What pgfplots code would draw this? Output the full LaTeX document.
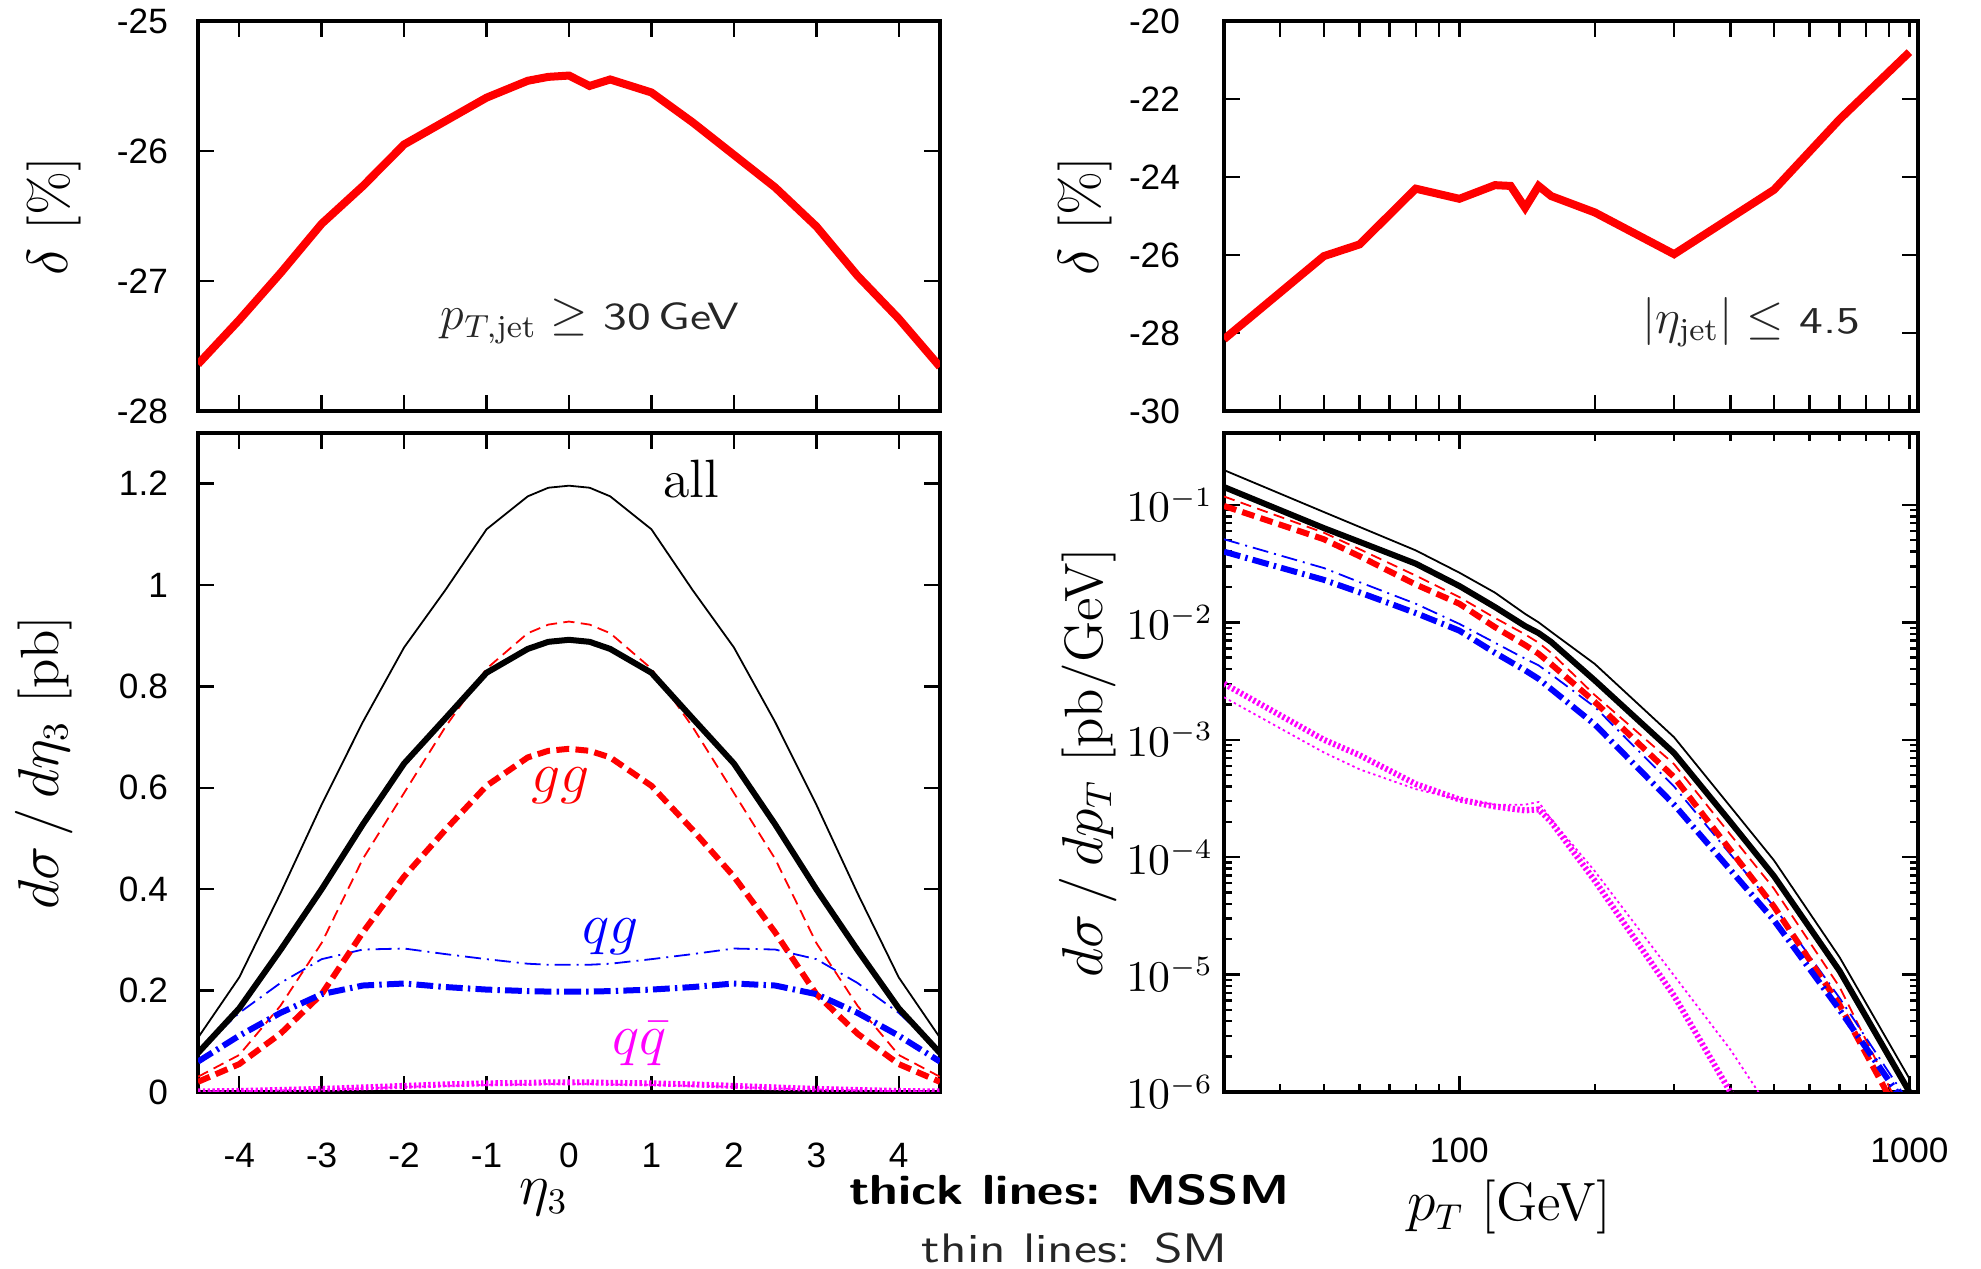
\documentclass[border=0pt]{standalone}
\usepackage{fontspec}
\usepackage{graphicx}
\usepackage{pgfplots}
\usepackage{pgfplotstable}
\pgfplotsset{compat=1.18}
\newfontfamily\arial{Liberation Sans}
\definecolor{cred}{rgb}{1,0,0}
\definecolor{cblue}{rgb}{0,0,1}
\definecolor{cmag}{rgb}{1,0,1}

% delta vs eta (top left)
\pgfplotstableread{
eta delta
-4.5 -27.64
-4 -27.30
-3.5 -26.94
-3 -26.56
-2.5 -26.27
-2 -25.95
-1.5 -25.77
-1 -25.59
-0.5 -25.46
-0.25 -25.43
0 -25.42
0.25 -25.50
0.5 -25.45
1 -25.55
1.5 -25.78
2 -26.03
2.5 -26.28
3 -26.58
3.5 -26.96
4 -27.29
4.5 -27.66
}\deltaeta

% delta vs pT (top right)
\pgfplotstableread{
pt delta
30 -28.16
50 -26.03
60 -25.73
80 -24.30
100 -24.56
120 -24.21
130 -24.23
140 -24.79
150 -24.23
160 -24.49
200 -24.91
300 -25.98
500 -24.33
700 -22.52
1000 -20.80
}\deltapt

% dsigma/deta3 (bottom left)
\pgfplotstableread{
eta small mssmall smgg mssmgg smqg mssmqg smqq mssmqq
-4.5 0.107 0.077 0.030 0.020 0.080 0.060 0.001 0.001
-4 0.226 0.165 0.073 0.055 0.156 0.111 0.0015 0.002
-3.5 0.392 0.280 0.170 0.115 0.215 0.156 0.003 0.004
-3 0.567 0.400 0.294 0.193 0.262 0.193 0.005 0.006
-2.5 0.730 0.528 0.460 0.315 0.281 0.210 0.007 0.009
-2 0.877 0.648 0.590 0.425 0.283 0.214 0.010 0.012
-1.5 0.990 0.737 0.720 0.517 0.272 0.207 0.012 0.015
-1 1.110 0.827 0.835 0.604 0.262 0.202 0.014 0.017
-0.5 1.175 0.874 0.905 0.660 0.253 0.199 0.015 0.018
-0.25 1.192 0.888 0.922 0.673 0.251 0.198 0.016 0.019
0 1.196 0.892 0.928 0.677 0.251 0.198 0.016 0.019
0.25 1.192 0.888 0.922 0.673 0.251 0.198 0.016 0.019
0.5 1.175 0.874 0.905 0.660 0.253 0.199 0.015 0.018
1 1.110 0.827 0.835 0.604 0.262 0.202 0.014 0.017
1.5 0.990 0.737 0.720 0.517 0.272 0.207 0.012 0.015
2 0.877 0.648 0.590 0.425 0.283 0.214 0.010 0.012
2.5 0.730 0.528 0.460 0.315 0.281 0.210 0.007 0.009
3 0.567 0.400 0.294 0.193 0.262 0.193 0.005 0.006
3.5 0.392 0.280 0.170 0.115 0.215 0.156 0.003 0.004
4 0.226 0.165 0.073 0.055 0.156 0.111 0.0015 0.002
4.5 0.107 0.077 0.030 0.020 0.080 0.060 0.001 0.001
}\deta

% dsigma/dpT (bottom right)
\pgfplotstableread{
pt small mssmall smgg mssmgg smqg mssmqg smqq mssmqq
30 0.198 0.142 0.118 0.098 0.051 0.040 2.3e-3 3.0e-3
50 0.087 0.0635 0.058 0.051 0.029 0.023 7.8e-4 1.0e-3
60 0.065 0.0485 0.042 0.0366 0.022 0.018 5.6e-4 7.4e-4
80 0.041 0.0316 0.025 0.021 0.0144 0.012 3.8e-4 4.2e-4
100 0.0265 0.0204 0.0164 0.0144 0.0097 0.0085 3.1e-4 3.1e-4
120 0.0179 0.0135 0.0109 0.0091 0.0067 0.0055 2.8e-4 2.7e-4
140 0.0118 0.0093 0.0079 0.0064 0.0049 0.0039 2.8e-4 2.5e-4
150 0.0100 0.0081 0.0067 0.0054 0.0043 0.0033 2.95e-4 2.55e-4
160 0.0083 0.0068 0.0055 0.0044 0.0036 0.0027 2.1e-4 2.0e-4
200 0.00442 0.0032 0.0024 0.0021 0.0019 0.00135 7.6e-5 6.3e-5
300 0.00105 7.7e-4 6.2e-4 4.8e-4 4.0e-4 2.8e-4 9.8e-6 6.6e-6
400 2.7e-4 2.0e-4 1.56e-4 1.15e-4 1.06e-4 7.8e-5 2.3e-6 1.0e-6
500 9.4e-5 6.9e-5 5.4e-5 3.8e-5 3.8e-5 2.9e-5 6.3e-7 2.5e-7
700 1.4e-5 1.07e-5 7.8e-6 5.5e-6 6.3e-6 5.0e-6 5e-8 1e-8
1000 1.3e-6 1.0e-6 5e-7 4.4e-7 8e-7 7e-7 1e-9 1e-10
}\dpt

\pgfplotsset{
  base/.style={scale only axis, clip=true,
    axis line style={line width=0.8pt},
    tick style={line width=0.6pt, black},
    major tick length=4pt, minor tick length=2pt,
    tick label style={font=\arial\fontsize{8.8}{10}\selectfont},
    xticklabel style={yshift=-4.5pt},
    yticklabel style={xshift=-4pt}},
  mssm/.style={line width=1.5pt},
  sm/.style={line width=0.45pt},
  allA/.style={black, solid},
  ggA/.style={cred, dash pattern=on 3.2pt off 1.6pt},
  ggB/.style={cred, dash pattern=on 2.8pt off 1.6pt},
  qgA/.style={cblue, dash pattern=on 4.2pt off 1.3pt on 0.6pt off 1.3pt},
  qgB/.style={cblue, dash pattern=on 4pt off 1.5pt on 0.5pt off 1.5pt},
  qqA/.style={cmag, dash pattern=on 0.6pt off 0.6pt},
  qqB/.style={cmag, dash pattern=on 0.6pt off 0.8pt},
}

\newcommand{\lab}{\fontsize{13.5}{15}\selectfont}

\begin{document}
\begin{tikzpicture}
\useasboundingbox (0,0) rectangle (495.25pt,317.25pt);

% top left
\begin{axis}[base, at={(49.5pt,214.5pt)}, anchor=south west,
  width=185.5pt, height=97.5pt,
  xmin=-4.5, xmax=4.5, ymin=-28, ymax=-25,
  xtick={-4,-3,-2,-1,0,1,2,3,4}, xticklabels={},
  ytick={-28,-27,-26,-25}, yticklabels={-28,-27,-26,-25}]
\addplot[cred, line width=2pt] table[x=eta, y=delta] {\deltaeta};
\end{axis}

% top right
\begin{axis}[base, at={(306pt,214.5pt)}, anchor=south west,
  width=173.5pt, height=97.5pt, xmode=log,
  xmin=30, xmax=1045, ymin=-30, ymax=-20,
  xtick={100,1000}, xticklabels={},
  minor xtick={40,50,60,70,80,90,200,300,400,500,600,700,800,900},
  minor tick length=4pt,
  ytick={-30,-28,-26,-24,-22,-20}, yticklabels={-30,-28,-26,-24,-22,-20},
  yticklabel style={xshift=-3.5pt}]
\addplot[cred, line width=2pt] table[x=pt, y=delta] {\deltapt};
\end{axis}

% bottom left
\begin{axis}[base, at={(49.5pt,44.25pt)}, anchor=south west,
  width=185.5pt, height=164.75pt,
  xmin=-4.5, xmax=4.5, ymin=0, ymax=1.3,
  xtick={-4,-3,-2,-1,0,1,2,3,4}, xticklabels={-4,-3,-2,-1,0,1,2,3,4},
  ytick={0,0.2,0.4,0.6,0.8,1,1.2}, yticklabels={0,0.2,0.4,0.6,0.8,1,1.2},
  xticklabel style={yshift=-4.8pt}]
\addplot[sm, allA] table[x=eta, y=small] {\deta};
\addplot[sm, ggB] table[x=eta, y=smgg] {\deta};
\addplot[sm, qgB] table[x=eta, y=smqg] {\deta};
\addplot[sm, qqB] table[x=eta, y=smqq] {\deta};
\addplot[mssm, allA] table[x=eta, y=mssmall] {\deta};
\addplot[mssm, ggA] table[x=eta, y=mssmgg] {\deta};
\addplot[mssm, qgA] table[x=eta, y=mssmqg] {\deta};
\addplot[mssm, qqA] table[x=eta, y=mssmqq] {\deta};
\node at (axis cs:1.48,1.21) {\lab all};
\node[text=cred] at (axis cs:-0.1,0.605) {\lab $gg$};
\node[text=cblue] at (axis cs:0.5,0.306) {\lab $qg$};
\node[text=cmag] at (axis cs:0.86,0.095) {\lab $q\bar q$};
\end{axis}

% bottom right
\begin{axis}[base, at={(306pt,44.25pt)}, anchor=south west,
  width=173.5pt, height=164.75pt, xmode=log, ymode=log,
  xmin=30, xmax=1045, ymin=1e-6, ymax=0.41,
  xtick={100,1000}, xticklabels={100,1000},
  minor xtick={40,50,60,70,80,90,200,300,400,500,600,700,800,900},
  ytick={1e-6,1e-5,1e-4,1e-3,1e-2,1e-1},
  yticklabel style={font=\fontsize{10.6}{12}\selectfont, xshift=4.8pt},
  xticklabel style={yshift=-3.4pt}]
\addplot[sm, allA] table[x=pt, y=small] {\dpt};
\addplot[sm, ggB] table[x=pt, y=smgg] {\dpt};
\addplot[sm, qgB] table[x=pt, y=smqg] {\dpt};
\addplot[sm, qqB] table[x=pt, y=smqq] {\dpt};
\addplot[mssm, allA] table[x=pt, y=mssmall] {\dpt};
\addplot[mssm, ggA] table[x=pt, y=mssmgg] {\dpt};
\addplot[mssm, qgA] table[x=pt, y=mssmqg] {\dpt};
\addplot[mssm, qqA] table[x=pt, y=mssmqq] {\dpt};
\end{axis}

% axis labels
\node[rotate=90] at (13.4pt,263.25pt) {\lab $\delta$ [\%]};
\node[rotate=90] at (271.3pt,263.25pt) {\lab $\delta$ [\%]};
\node[rotate=90] at (11.1pt,126.6pt) {\lab $d\sigma\,/\,d\eta_3$ [pb]};
\node[rotate=90] at (272pt,126.6pt) {\lab $d\sigma\,/\,dp_T$ [pb/GeV]};
\node at (136pt,17.7pt) {\lab $\eta_3$};
\node at (377.3pt,15.5pt) {\lab $p_T$ [GeV]};

% annotations
\node[anchor=base, text=black!85] at (147.5pt,234.75pt)
  {\fontsize{12}{14}\selectfont $p_{T,\mathrm{jet}}\geq$
   \scalebox{1.25}[1]{\fontsize{9.5}{11}\selectfont\sffamily 30\,GeV}};
\node[anchor=base, text=black!85] at (437.8pt,233.9pt)
  {\fontsize{12}{14}\selectfont $|\eta_{\mathrm{jet}}|\leq$
   \scalebox{1.25}[1]{\fontsize{9.5}{11}\selectfont\sffamily 4.5}};
\node[anchor=base] at (267.3pt,16pt)
  {\scalebox{1.22}[1]{\fontsize{10.5}{12}\selectfont\sffamily\bfseries thick lines: MSSM}};
\node[anchor=base, text=black!85] at (268.7pt,1.5pt)
  {\scalebox{1.25}[1]{\fontsize{10.3}{12}\selectfont\sffamily thin lines: SM}};
\end{tikzpicture}
\end{document}
